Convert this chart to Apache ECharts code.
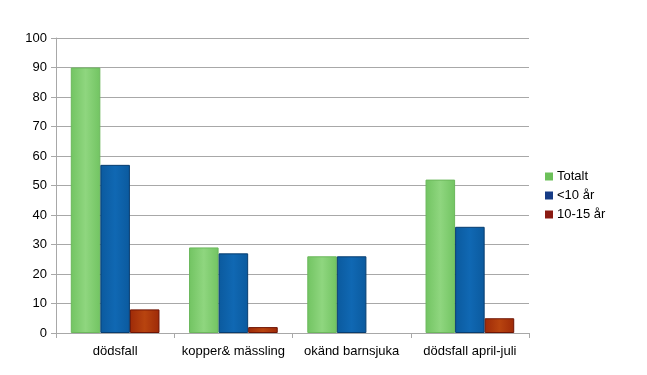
<!DOCTYPE html>
<html><head><meta charset="utf-8">
<script src="https://cdn.jsdelivr.net/npm/echarts@6/dist/echarts.min.js"></script>
<style>html,body{margin:0;padding:0;background:#fff}#c{width:647px;height:375px}</style>
</head><body><div id="c"></div>
<script>
const categories = ['dödsfall', 'kopper& mässling', 'okänd barnsjuka', 'dödsfall april-juli'];
const seriesNames = ['Totalt', '<10 år', '10-15 år'];
const totalt = [90, 29, 26, 52];
const under10 = [57, 27, 26, 36];
const age10to15 = [8, 2, 0, 5];

const font = 'Liberation Sans, Arial, sans-serif';
function grad(a, b) {
  return new echarts.graphic.LinearGradient(0, 0, 1, 0, [
    {offset: 0, color: a}, {offset: 0.5, color: b}, {offset: 1, color: a}
  ]);
}
const noZero = arr => arr.map(v => v === 0 ? '-' : v);
const chart = echarts.init(document.getElementById('c'), null, {renderer: 'canvas'});
chart.setOption({
  animation: false,
  textStyle: {fontFamily: font},
  grid: {left: 56, right: 118, top: 38, bottom: 42, containLabel: false},
  legend: {
    orient: 'vertical', left: 540, top: 165,
    itemWidth: 8, itemHeight: 8, itemGap: 6, icon: 'rect',
    textStyle: {fontFamily: font, fontSize: 13, color: '#000', padding: [0,0,0,-1]},
    data: [
      {name: seriesNames[0], itemStyle: {color: '#6cc05a', borderWidth: 0}},
      {name: seriesNames[1], itemStyle: {color: '#163c86', borderWidth: 0}},
      {name: seriesNames[2], itemStyle: {color: '#8a1a12', borderWidth: 0}}
    ]
  },
  xAxis: {
    type: 'category', data: categories,
    axisLine: {lineStyle: {color: '#a8a8a8', width: 1}},
    axisTick: {show: true, length: 5, lineStyle: {color: '#a8a8a8'}, alignWithLabel: false, interval: 0},
    axisLabel: {color: '#000', fontSize: 13, fontFamily: font, margin: 12, interval: 0}
  },
  yAxis: {
    type: 'value', min: 0, max: 100, interval: 10,
    axisLine: {show: true, lineStyle: {color: '#a8a8a8'}},
    axisTick: {show: true, length: 5, inside: false, lineStyle: {color: '#a8a8a8'}},
    splitLine: {lineStyle: {color: '#a8a8a8', width: 1}},
    axisLabel: {color: '#000', fontSize: 13, fontFamily: font, margin: 9}
  },
  series: [
    {name: seriesNames[0], type: 'bar', data: noZero(totalt), barGap: '0%', barCategoryGap: '25%',
     itemStyle: {color: grad('#72c462', '#8fd67f'), borderColor: '#6cb85c', borderWidth: 1}},
    {name: seriesNames[1], type: 'bar', data: noZero(under10),
     itemStyle: {color: grad('#0b5a9e', '#1068b3'), borderColor: '#073d70', borderWidth: 1}},
    {name: seriesNames[2], type: 'bar', data: noZero(age10to15),
     itemStyle: {color: grad('#9e2a08', '#b8440f'), borderColor: '#6e1404', borderWidth: 1}}
  ]
});
</script></body></html>
